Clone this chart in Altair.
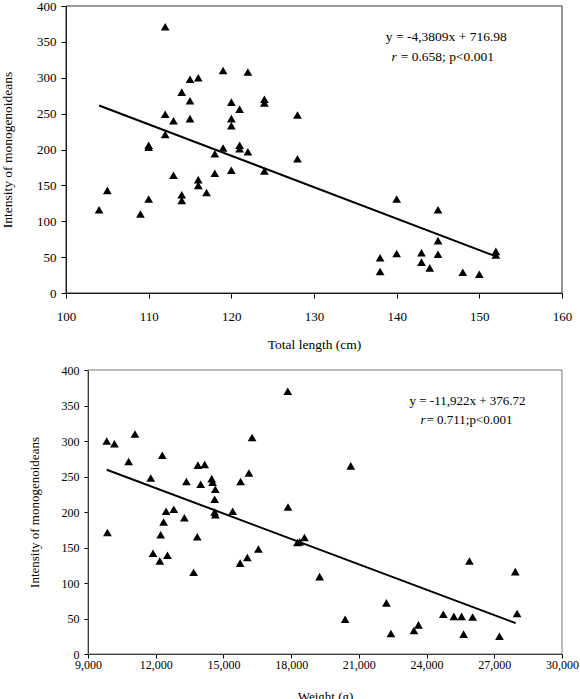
import altair as alt
import pandas as pd

FONT = "Liberation Serif"

# Total length (cm) of each fish and its monogenoidean intensity
length_cm = [112, 119, 122, 115, 116, 114, 115, 120, 121, 124, 124, 112, 113, 115,
             120, 120, 128, 112, 110, 110, 119, 121, 121, 122, 118, 128, 113, 118,
             120, 124, 116, 116, 117, 114, 114, 105, 110, 104, 109, 140, 145, 145,
             138, 138, 140, 143, 143, 145, 144, 148, 150, 152, 152]
length_intensity = [371, 310, 308, 298, 300, 280, 268, 266, 256, 270, 265, 249, 240, 243,
                    243, 233, 248, 221, 206, 203, 202, 206, 201, 197, 194, 187, 164, 167,
                    171, 170, 158, 150, 140, 137, 129, 143, 131, 116, 110, 131, 116, 73,
                    49, 30, 55, 56, 43, 54, 35, 29, 26, 58, 53]

# Weight (g) of each fish and its monogenoidean intensity
weight_g = [17850, 9830, 10170, 11080, 10800, 12290, 11780, 13870, 14170, 13360, 13990,
            14480, 14520, 14640, 14610, 14610, 14640, 15760, 16130, 16270, 15410, 17860,
            9860, 12460, 12800, 12350, 13270, 12220, 13840, 11880, 12180, 12520, 13680,
            15740, 16060, 16550, 18280, 18380, 18590, 19260, 20640, 20390, 22220, 22420,
            23440, 23640, 24740, 25210, 25550, 26040, 25640, 25900, 27230, 27930, 28010]
weight_intensity = [370, 300, 296, 310, 271, 280, 248, 266, 267, 243, 239,
                    247, 242, 232, 218, 200, 196, 243, 255, 305, 201, 207,
                    171, 201, 204, 186, 192, 168, 165, 142, 131, 139, 115,
                    128, 136, 148, 157, 158, 164, 109, 265, 49, 72, 29,
                    33, 41, 56, 53, 53, 52, 28, 131, 25, 116, 57]

# Reported regression equations and the x span of each fitted line
length_fit = {"slope": -4.3809, "intercept": 716.98, "x": [104, 152]}
weight_fit = {"slope": -11.922, "intercept": 376.72, "x": [9830, 27950]}  # slope per 1,000 g

length_eq = ["y = -4,3809x + 716.98", "= 0.658; p<0.001"]
weight_eq = ["y = -11,922x + 376.72", "= 0.711;p<0.001"]

length_ticks = [100, 110, 120, 130, 140, 150, 160]
weight_ticks = [9000, 12000, 15000, 18000, 21000, 24000, 27000, 30000]
intensity_ticks = [0, 50, 100, 150, 200, 250, 300, 350, 400]

Y_TITLE = "Intensity of monogenoideans"


def panel(xs, ys, fit, fit_x, eq, eq_pos, eq_gap, x_dom, x_ticks, x_title, x_range,
          x_fmt, y_offset, frame_color, sizes, width, height):
    lab, ttl, x_lpad, x_tpad, y_tpad, tick = sizes
    x_axis = alt.Axis(values=x_ticks, title=x_title, format=x_fmt, tickSize=tick,
                      labelPadding=x_lpad, titlePadding=x_tpad, labelFontSize=lab,
                      titleFontSize=ttl, grid=False, labelFlush=False)
    y_axis = alt.Axis(values=intensity_ticks, title=Y_TITLE, tickSize=tick,
                      labelPadding=5, titlePadding=y_tpad, labelFontSize=lab,
                      titleFontSize=ttl, grid=False, offset=y_offset)
    xsc = dict(domain=x_dom, nice=False, zero=False)
    if x_range is not None:
        xsc["range"] = x_range
    X = lambda f: alt.X(f, type="quantitative", scale=alt.Scale(**xsc), axis=x_axis)
    Y = lambda f: alt.Y(f, type="quantitative",
                        scale=alt.Scale(domain=[0, 400], nice=False), axis=y_axis)

    frame = alt.Chart(pd.DataFrame({"x": [x_dom[0]], "x2": [x_dom[1]],
                                    "y": [0], "y2": [400]})).mark_rect(
        fill="transparent", stroke=frame_color, strokeWidth=1
    ).encode(x=X("x"), x2="x2", y=Y("y"), y2="y2")

    scale_k = 1000.0 if fit_x[0] > 1000 else 1.0
    fit_df = pd.DataFrame({
        "x": fit_x,
        "y": [fit["slope"] * v / scale_k + fit["intercept"] for v in fit_x],
    })
    line = alt.Chart(fit_df).mark_line(color="black", strokeWidth=2).encode(
        x=X("x"), y=Y("y"))

    pts = alt.Chart(pd.DataFrame({"x": xs, "y": ys})).mark_point(
        shape="triangle-up", filled=True, size=76, color="black", opacity=1
    ).encode(x=X("x"), y=Y("y"))

    (cx, cy1), (lx, cy2) = eq_pos
    t1 = alt.Chart(pd.DataFrame({"x": [cx], "y": [cy1], "t": [eq[0]]})).mark_text(
        font=FONT, fontSize=ttl, align="center", baseline="middle", color="black"
    ).encode(x=X("x"), y=Y("y"), text="t:N")
    t2 = alt.Chart(pd.DataFrame({"x": [lx], "y": [cy2], "t": [eq[1]]})).mark_text(
        font=FONT, fontSize=ttl, align="left", baseline="middle", color="black",
        dx=eq_gap
    ).encode(x=X("x"), y=Y("y"), text="t:N")
    t_r = alt.Chart(pd.DataFrame({"x": [lx], "y": [cy2], "t": ["r"]})).mark_text(
        font=FONT, fontSize=ttl, fontStyle="italic", align="right",
        baseline="middle", color="black"
    ).encode(x=X("x"), y=Y("y"), text="t:N")

    return alt.layer(frame, line, pts, t1, t2, t_r).properties(
        width=width, height=height)


top = panel(length_cm, length_intensity, length_fit, length_fit["x"], length_eq,
            [(146, 357), (140, 329)], 4, [100, 160], length_ticks, "Total length (cm)",
            None, "d", 0, "#333333", (13, 13.5, 12, 14, 22, 5), 496, 287)

bottom = panel(weight_g, weight_intensity, weight_fit, weight_fit["x"], weight_eq,
               [(25815, 356), (23950, 330)], 1, [9000, 30000], weight_ticks, "Weight (g)",
               [22, 496], ",d", -22, "#777777", (12, 13, 1, 20, 20, 4), 496, 284)

chart = alt.vconcat(top, bottom, spacing=13).properties(
    padding={"left": 0, "top": 0, "right": 0, "bottom": 0},
    background="white",
).configure_view(strokeWidth=0).configure_axis(
    labelFont=FONT, titleFont=FONT, titleFontWeight="normal",
    labelColor="black", titleColor="black", domainColor="black",
    tickColor="black", domainWidth=1, tickWidth=1,
)

chart.save("out.html", embed_options={"renderer": "svg", "actions": False})
